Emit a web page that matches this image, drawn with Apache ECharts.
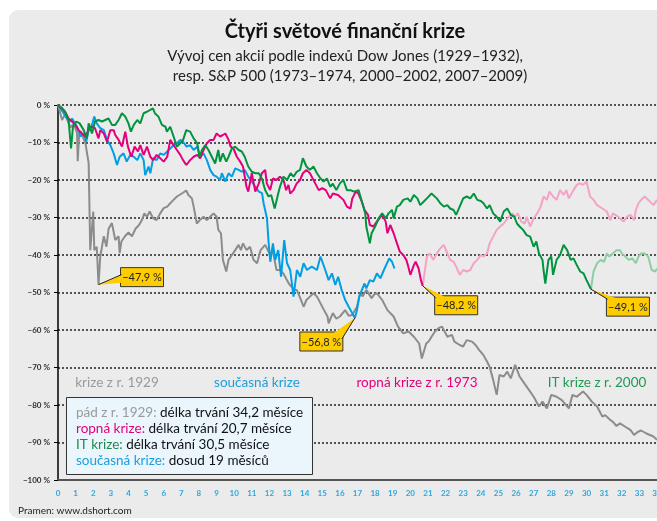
<!DOCTYPE html>
<html>
<head>
<meta charset="UTF-8">
<title>Čtyři světové finanční krize</title>
<script src="https://cdn.jsdelivr.net/npm/echarts@6/dist/echarts.min.js"></script>
<style>
  html, body { margin: 0; padding: 0; background: #fff; }
  #main { width: 657px; height: 521px; }
</style>
</head>
<body>
<div id="main"></div>
<script>
// [měsíc od vrcholu, změna v %]
var crash1929 = [[0,0],[0.23,-4],[0.4,-2.5],[0.7,-6],[0.9,-5],[1.08,-7.5],[1.12,-15],[1.2,-8],[1.3,-7],[1.45,-9],[1.55,-10],[1.74,-15.5],[1.83,-38.7],[1.93,-38.5],[2.0,-28.4],[2.06,-38.7],[2.2,-37.8],[2.3,-47.9],[2.4,-40.4],[2.6,-35],[2.75,-37.8],[2.87,-33],[3.06,-31.5],[3.25,-36],[3.44,-35],[3.5,-39.5],[3.6,-36.4],[3.8,-35],[4.0,-34],[4.2,-35],[4.4,-33],[4.6,-32],[4.76,-30.7],[4.9,-28.9],[5.05,-29.8],[5.2,-28.4],[5.4,-30.2],[5.6,-30.7],[5.8,-28.9],[6.0,-27.5],[6.2,-27.1],[6.37,-26.2],[6.56,-25.3],[6.75,-24.4],[7.03,-23.6],[7.28,-22.8],[7.4,-24],[7.6,-24.9],[7.7,-27.1],[7.88,-31.6],[8.05,-30.7],[8.26,-29.8],[8.45,-30.7],[8.64,-29.8],[8.83,-28.9],[9.0,-29.8],[9.1,-33.3],[9.25,-34.2],[9.36,-41.3],[9.55,-44.4],[9.68,-41.3],[9.87,-40],[10.06,-38.7],[10.25,-37.3],[10.38,-38.7],[10.5,-36.9],[10.7,-38.7],[10.9,-37.8],[11.1,-41.3],[11.3,-42.2],[11.5,-38.7],[11.76,-37.3],[11.85,-36.9],[12.05,-40],[12.2,-39],[12.4,-44],[12.6,-44],[12.8,-45],[13.1,-47.6],[13.4,-49.3],[13.55,-49.3],[13.75,-51.5],[13.94,-53.8],[14.1,-52],[14.3,-51.1],[14.5,-50.2],[14.7,-51.1],[14.9,-52.9],[15.1,-54.7],[15.3,-56.4],[15.36,-58.2],[15.6,-55.5],[15.8,-57],[16.0,-56.4],[16.3,-54.7],[16.5,-56.2],[16.7,-56],[16.97,-53.8],[17.15,-50.2],[17.3,-51],[17.5,-49.3],[17.8,-51.5],[17.95,-50.5],[18.1,-50.2],[18.4,-52],[18.7,-54.7],[19.05,-56.4],[19.3,-59.1],[19.6,-60.9],[19.9,-60.4],[20.2,-61.8],[20.5,-63.6],[20.65,-67.6],[20.9,-63.6],[21.05,-63],[21.2,-61.8],[21.4,-60.4],[21.6,-59.5],[21.8,-59.1],[22.1,-61.8],[22.36,-61.3],[22.5,-63.1],[22.8,-64],[23.0,-64.4],[23.2,-62.7],[23.5,-63.1],[23.7,-64],[23.9,-65.3],[24.15,-66.7],[24.35,-68.4],[24.5,-69.8],[24.7,-73.3],[24.9,-77.3],[25.06,-72],[25.3,-72.4],[25.5,-71.1],[25.7,-72.9],[25.95,-69.3],[26.2,-72.4],[26.6,-75.1],[27.0,-77.8],[27.3,-80.4],[27.5,-79.1],[27.75,-80.9],[28.0,-77.3],[28.3,-77.8],[28.6,-78.7],[29.0,-80.9],[29.2,-77.3],[29.45,-77.8],[29.8,-76.4],[30.0,-77.3],[30.3,-79.1],[30.6,-80.4],[30.9,-83.1],[31.06,-82.7],[31.35,-84],[31.5,-84.5],[31.7,-85.6],[31.9,-84.9],[32.2,-85.8],[32.5,-86.7],[32.7,-88],[32.9,-87.2],[33.1,-86.8],[33.4,-87.6],[33.8,-88.4],[34.0,-89.3]];

var crisisNow = [[0,0],[0.32,-2.2],[0.5,-3.5],[0.7,-4.4],[0.8,-3.6],[1.08,-5.8],[1.27,-8.4],[1.46,-7.6],[1.6,-9.8],[1.74,-6.7],[1.93,-5.3],[2.06,-3.1],[2.2,-4.9],[2.4,-6.2],[2.6,-6.7],[2.78,-9.3],[2.97,-10.7],[3.16,-12.9],[3.35,-16],[3.5,-13.8],[3.72,-12.9],[3.9,-15.1],[4.1,-13.3],[4.3,-13.8],[4.5,-14.7],[4.67,-12.9],[4.86,-14.7],[4.95,-18.7],[5.14,-16.4],[5.24,-18.2],[5.4,-14.2],[5.6,-14.7],[5.8,-12.9],[6.0,-13.3],[6.2,-12.4],[6.37,-11.6],[6.56,-10.7],[6.75,-10.2],[6.94,-9.3],[7.1,-9.8],[7.3,-11.1],[7.5,-10.7],[7.7,-12],[7.9,-11.1],[8.07,-13.8],[8.26,-12.9],[8.45,-14.7],[8.64,-17.3],[8.83,-18.7],[9.0,-19.1],[9.2,-20],[9.3,-18.2],[9.5,-20.4],[9.68,-18.2],[9.87,-19.1],[10.06,-16.9],[10.25,-17.3],[10.43,-17.8],[10.6,-17.3],[10.8,-19.1],[11.0,-20.4],[11.2,-21.8],[11.4,-23.1],[11.58,-23.5],[11.67,-26.2],[11.86,-30.2],[11.95,-36.4],[12.05,-41.8],[12.2,-36.9],[12.33,-41.3],[12.5,-38.7],[12.66,-45.8],[12.84,-36],[13.0,-42.2],[13.18,-44],[13.37,-51.1],[13.56,-44],[13.75,-45.8],[13.94,-42.2],[14.13,-44],[14.4,-43.1],[14.7,-44],[14.9,-40.4],[15.17,-44],[15.36,-46.7],[15.55,-44.9],[15.74,-48],[15.9,-45.8],[16.1,-49.3],[16.3,-52],[16.5,-53.8],[16.7,-55.5],[16.85,-56.8],[16.97,-54.7],[17.1,-51.1],[17.25,-49.3],[17.4,-47.6],[17.5,-48.9],[17.7,-46.7],[17.9,-47.1],[18.1,-44.9],[18.3,-46.2],[18.5,-44],[18.8,-40.9],[18.96,-41.8],[19.1,-43.6]];

var oil1973 = [[0,0],[0.23,-0.9],[0.4,-1.8],[0.6,-3.6],[0.8,-4.4],[0.98,-5.3],[1.17,-6.7],[1.36,-7.6],[1.55,-8.4],[1.74,-6.7],[1.93,-5.8],[2.1,-6.2],[2.3,-8.9],[2.4,-6.7],[2.6,-7.6],[2.78,-9.8],[2.97,-6.7],[3.16,-6.7],[3.25,-8],[3.44,-9.3],[3.63,-11.1],[3.82,-7.1],[3.97,-11.1],[4.16,-13.8],[4.35,-11.1],[4.54,-12.4],[4.67,-10.7],[4.86,-13.3],[5.05,-11.1],[5.24,-13.8],[5.4,-14.7],[5.6,-13.3],[5.8,-14.2],[6.0,-15.1],[6.2,-13.8],[6.37,-9.3],[6.56,-10.7],[6.75,-12],[6.94,-13.3],[7.1,-14.7],[7.28,-16],[7.5,-14.7],[7.7,-13.8],[7.9,-13.3],[8.07,-14.2],[8.26,-12],[8.45,-10.2],[8.64,-9.3],[8.83,-9.3],[9.0,-7.6],[9.2,-8.4],[9.36,-8],[9.5,-7.6],[9.68,-9.3],[9.8,-11.1],[9.96,-11.6],[10.15,-13.8],[10.34,-15.1],[10.5,-16.4],[10.7,-21.8],[10.8,-23.1],[11.0,-18.2],[11.2,-23.1],[11.4,-20.9],[11.57,-18.2],[11.76,-17.3],[11.85,-20.9],[12.04,-22.7],[12.2,-19.6],[12.4,-20],[12.6,-19.1],[12.8,-20],[12.95,-22.7],[13.08,-21.3],[13.18,-23.6],[13.37,-22.7],[13.55,-20.9],[13.74,-20],[13.9,-18.2],[14.1,-17.3],[14.3,-18.2],[14.6,-20.9],[14.8,-22.7],[15.0,-22.2],[15.2,-22.7],[15.45,-24.9],[15.6,-23.6],[15.9,-24],[16.2,-25.3],[16.4,-27.1],[16.6,-27.6],[16.7,-25],[16.9,-23.1],[17.05,-23.6],[17.25,-25.8],[17.4,-28],[17.6,-29.3],[17.7,-32],[17.9,-32.4],[18.1,-31.1],[18.4,-29.3],[18.6,-31.1],[18.7,-34.2],[18.86,-32],[19.05,-34.2],[19.24,-36.9],[19.4,-39.1],[19.6,-40],[19.77,-41.3],[19.86,-42.7],[20.0,-45.3],[20.2,-42.7],[20.3,-41.8],[20.47,-43.6],[20.6,-46.7],[20.7,-48.2]];

var oil1973After = [[20.7,-48.2],[20.94,-40.4],[21.1,-39.6],[21.3,-41.3],[21.5,-39.6],[21.7,-38.2],[21.9,-37.3],[22.1,-39.6],[22.26,-41.3],[22.45,-41.8],[22.6,-43.1],[22.8,-45.3],[23.0,-44],[23.2,-44.4],[23.4,-44],[23.6,-42.2],[23.8,-41.3],[24.0,-40],[24.15,-40.4],[24.35,-39.6],[24.5,-36.9],[24.7,-35.1],[24.9,-33.3],[25.1,-32.4],[25.3,-31.6],[25.6,-29.8],[25.8,-28.9],[25.95,-29.8],[26.1,-28.9],[26.3,-31.1],[26.5,-31.6],[26.6,-29.8],[26.8,-32.4],[27.0,-30.2],[27.2,-28.9],[27.4,-27.1],[27.56,-24.4],[27.75,-25.3],[27.9,-23.1],[28.1,-24.4],[28.3,-25.3],[28.5,-22.7],[28.7,-24],[28.85,-22.7],[29.0,-24.9],[29.26,-22.7],[29.45,-21.3],[29.6,-20.9],[29.8,-21.3],[30.0,-20.4],[30.2,-24.4],[30.4,-25.3],[30.6,-26.7],[30.9,-27.6],[31.15,-28.4],[31.35,-30.7],[31.5,-28.9],[31.8,-29.8],[32.1,-31.1],[32.3,-29.8],[32.5,-29.3],[32.7,-30.7],[32.8,-28],[32.95,-26.2],[33.1,-25.3],[33.3,-24.4],[33.5,-25.3],[33.8,-26.7],[34.0,-25.3]];

var it2000 = [[0,0],[0.23,-0.9],[0.4,-1.8],[0.5,-1.3],[0.6,-4],[0.74,-11.6],[0.85,-5.8],[1.04,-4.4],[1.23,-4.9],[1.46,-6.7],[1.64,-8.9],[1.74,-4.9],[1.93,-7.6],[2.1,-4.4],[2.3,-4],[2.5,-4.4],[2.68,-4],[2.87,-3.6],[3.06,-5.3],[3.25,-5.3],[3.44,-4],[3.63,-2.2],[3.82,-3.1],[4.0,-4.9],[4.14,-7.1],[4.3,-5.3],[4.5,-4],[4.67,-4.9],[4.86,-2.2],[5.05,-1.8],[5.24,-1.3],[5.39,-0.9],[5.5,-2.2],[5.7,-3.1],[5.9,-5.3],[6.1,-5.8],[6.18,-7.1],[6.37,-5.8],[6.56,-8.4],[6.75,-11.1],[6.94,-10.2],[7.1,-9.3],[7.28,-6.7],[7.5,-7.1],[7.7,-8.9],[7.9,-10.2],[8.03,-13.8],[8.17,-12],[8.36,-10.7],[8.54,-12],[8.73,-13.8],[8.92,-15.6],[9.1,-12],[9.2,-15.1],[9.36,-12.9],[9.55,-15.1],[9.68,-13.8],[9.87,-11.6],[10.06,-11.1],[10.25,-12],[10.43,-12.4],[10.6,-13.8],[10.8,-16.4],[11.0,-17.8],[11.2,-18.2],[11.4,-18.2],[11.57,-19.6],[11.76,-22.7],[11.95,-24.4],[12.1,-24],[12.3,-27.6],[12.5,-23.6],[12.6,-21.8],[12.8,-19.1],[13.0,-20],[13.2,-18.2],[13.37,-19.1],[13.55,-17.8],[13.74,-17.3],[13.9,-14.2],[14.1,-16.4],[14.3,-17.3],[14.5,-16.4],[14.7,-18.2],[14.9,-19.6],[15.07,-20.4],[15.27,-19.6],[15.45,-21.8],[15.6,-21],[15.8,-22.7],[16.0,-20.9],[16.2,-20],[16.4,-22.7],[16.6,-22.7],[16.8,-23.1],[17.06,-22.7],[17.25,-25.8],[17.44,-28.9],[17.5,-32.4],[17.7,-36.9],[17.8,-34.2],[18.0,-32.4],[18.2,-30.2],[18.4,-28.9],[18.6,-30.2],[18.76,-28.9],[18.96,-28],[19.05,-30.2],[19.24,-27.1],[19.4,-26.7],[19.6,-25.3],[19.85,-24.9],[20.0,-25.8],[20.2,-24],[20.4,-24.9],[20.56,-26.7],[20.75,-25.8],[20.94,-24.9],[21.2,-23.6],[21.5,-24.9],[21.7,-26.2],[21.9,-27.1],[22.1,-26.7],[22.26,-27.6],[22.45,-28],[22.6,-29.3],[22.8,-27.1],[23.0,-24.9],[23.2,-24.4],[23.4,-24.9],[23.6,-23.6],[23.8,-25.3],[24.0,-25.6],[24.15,-26.2],[24.35,-27.6],[24.5,-26.7],[24.7,-28.9],[24.9,-29.8],[25.1,-31.1],[25.3,-28.4],[25.5,-27.6],[25.7,-29.3],[25.9,-29.8],[26.05,-31.6],[26.2,-32.4],[26.4,-33.3],[26.6,-34.7],[26.8,-35.1],[27.0,-37.8],[27.15,-36.4],[27.3,-39.6],[27.5,-41.3],[27.56,-44],[27.66,-47.6],[27.84,-41.3],[28.0,-40.4],[28.1,-45.3],[28.3,-41.3],[28.5,-40],[28.7,-37.3],[28.9,-38.7],[29.1,-41.3],[29.26,-40.9],[29.45,-42.7],[29.64,-44.4],[29.83,-44.9],[30.0,-46.7],[30.25,-49.1]];

var it2000After = [[30.25,-49.1],[30.4,-44.4],[30.6,-42.2],[30.8,-41.3],[31.0,-41.8],[31.15,-39.6],[31.3,-40.4],[31.5,-39.6],[31.7,-38.7],[31.9,-38.7],[32.0,-39.6],[32.2,-40.4],[32.4,-41.3],[32.6,-40.9],[32.8,-42.2],[32.95,-40.4],[33.1,-39.6],[33.3,-39.6],[33.5,-40.4],[33.7,-44],[33.9,-44.4],[34.0,-43.6]];

// dna krizí (popisky žlutých štítků)
var minPoints = [[2.3,-47.9],[16.85,-56.8],[20.7,-48.2],[30.25,-49.1]];
var minLabels = ['\u221247,9 %','\u221256,8 %','\u221248,2 %','\u221249,1 %'];

var FONT = 'Lato, "Noto Sans", sans-serif';

var myChart = echarts.init(document.getElementById('main'));

function lineSeries(name, data, color, z) {
    return {
        name: name, type: 'line', data: data, z: z,
        showSymbol: false, symbol: 'none', smooth: false,
        lineStyle: { color: color, width: 2 },
        emphasis: { disabled: true }
    };
}

myChart.setOption({
    animation: false,
    textStyle: { fontFamily: FONT },
    grid: { left: 58, right: 0, top: 105, bottom: 41, containLabel: false, outerBoundsMode: 'none' },
    xAxis: {
        type: 'value', min: 0, max: 34, interval: 1,
        axisLine: { onZero: false, lineStyle: { color: '#555', width: 2 } },
        axisTick: { show: false },
        splitLine: { show: false },
        axisLabel: { color: '#29a8e0', fontSize: 8, fontWeight: 'bold', margin: 9, fontFamily: FONT }
    },
    yAxis: {
        type: 'value', min: -100, max: 0, interval: 10,
        axisLine: { show: true, onZero: false, lineStyle: { color: '#000', width: 1.5 } },
        axisTick: { show: true, length: 4, lineStyle: { color: '#000', width: 1 } },
        splitLine: { show: true, lineStyle: { color: '#222', width: 1.5, type: [2, 2] } },
        axisLabel: {
            color: '#333', fontSize: 8, fontWeight: 'bold', margin: 8, fontFamily: FONT,
            formatter: function (v) { return v === 0 ? '0 %' : '\u2212' + (-v) + ' %'; }
        }
    },
    series: [
        lineSeries('krize z r. 1929', crash1929, '#8c8c8c', 2),
        lineSeries('ropná krize po dnu', oil1973After, '#f4a3c6', 2),
        lineSeries('IT krize po dnu', it2000After, '#8fcea3', 2),
        lineSeries('současná krize', crisisNow, '#009fe3', 3),
        lineSeries('ropná krize z r. 1973', oil1973, '#e4007c', 4),
        lineSeries('IT krize z r. 2000', it2000, '#00943f', 5)
    ]
});

// štítky u minim – poloha odvozená z os grafu
var boxOffsets = [[22, -17], [-55, 14], [12, 10], [15.5, 8]];
var callouts = [];
minPoints.forEach(function (p, i) {
    var t = myChart.convertToPixel({ gridIndex: 0 }, p);
    var bx = t[0] + boxOffsets[i][0], by = t[1] + boxOffsets[i][1], bw = 43, bh = 19;
    var a, b;
    if (i === 0) { a = [bx + 1, by + 7]; b = [bx + 1, by + 15]; }
    else if (i === 1) { a = [bx + bw - 1, by + 7]; b = [bx + bw - 9, by + 1]; }
    else { a = [bx + 1, by + 2]; b = [bx + 10, by + 1]; }
    callouts.push(
        { type: 'rect', z: 100, shape: { x: bx, y: by, width: bw, height: bh },
          style: { fill: '#ffcc00', stroke: '#333', lineWidth: 1 } },
        { type: 'polygon', z: 101, shape: { points: [t, a, b] },
          style: { fill: '#ffcc00' } },
        { type: 'line', z: 102, shape: { x1: t[0], y1: t[1], x2: a[0], y2: a[1] },
          style: { stroke: '#222', lineWidth: 1 } },
        { type: 'text', z: 103, x: bx + bw / 2, y: by + bh / 2 + 0.5,
          style: { text: minLabels[i], fill: '#222', font: '11px ' + FONT, align: 'center', verticalAlign: 'middle' } }
    );
});

var graphics = [
    { type: 'rect', z: -10, shape: { x: 9, y: 10, width: 700, height: 508, r: 9 },
      style: { fill: '#ebebeb' } },
    { type: 'text', z: 10, x: 345, y: 32,
      style: { text: 'Čtyři světové finanční krize', fill: '#111', font: 'bold 20px ' + FONT, align: 'center', verticalAlign: 'middle' } },
    { type: 'text', z: 10, x: 345, y: 56,
      style: { text: 'Vývoj cen akcií podle indexů Dow Jones (1929\u20131932),', fill: '#222', font: '15px ' + FONT, align: 'center', verticalAlign: 'middle' } },
    { type: 'text', z: 10, x: 350, y: 76,
      style: { text: 'resp. S&P 500 (1973\u20131974, 2000\u20132002, 2007\u20132009)', fill: '#222', font: '15px ' + FONT, align: 'center', verticalAlign: 'middle' } },
    { type: 'text', z: 10, x: 117, y: 383,
      style: { text: 'krize z r. 1929', fill: '#9a9a9a', font: '13.5px ' + FONT, align: 'center', verticalAlign: 'middle' } },
    { type: 'text', z: 10, x: 257, y: 383,
      style: { text: 'současná krize', fill: '#1a9fdc', font: '13.5px ' + FONT, align: 'center', verticalAlign: 'middle' } },
    { type: 'text', z: 10, x: 417, y: 383,
      style: { text: 'ropná krize z r. 1973', fill: '#e4007c', font: '13.5px ' + FONT, align: 'center', verticalAlign: 'middle' } },
    { type: 'text', z: 10, x: 597, y: 383,
      style: { text: 'IT krize z r. 2000', fill: '#1f9a55', font: '13.5px ' + FONT, align: 'center', verticalAlign: 'middle' } },
    { type: 'rect', z: 20, shape: { x: 66.5, y: 397.5, width: 246, height: 77 },
      style: { fill: '#eaf5fc', stroke: '#333', lineWidth: 1 } },
    { type: 'text', z: 21, x: 76, y: 404,
      style: {
          text: '{g|pád z r. 1929:} {k|délka trvání 34,2 měsíce}\n' +
                '{p|ropná krize:} {k|délka trvání 20,7 měsíce}\n' +
                '{v|IT krize:} {k|délka trvání 30,5 měsíce}\n' +
                '{b|současná krize:} {k|dosud 19 měsíců}',
          font: '13.5px ' + FONT,
          rich: {
              g: { fill: '#9a9a9a', font: '13.5px ' + FONT, lineHeight: 16.3 },
              p: { fill: '#e4007c', font: '13.5px ' + FONT, lineHeight: 16.3 },
              v: { fill: '#1f8a4c', font: '13.5px ' + FONT, lineHeight: 16.3 },
              b: { fill: '#1a9fdc', font: '13.5px ' + FONT, lineHeight: 16.3 },
              k: { fill: '#111', font: '13.5px ' + FONT, lineHeight: 16.3 }
          }
      } },
    { type: 'text', z: 10, x: 18, y: 511,
      style: { text: 'Pramen: www.dshort.com', fill: '#222', font: '10px ' + FONT, verticalAlign: 'middle' } }
];

myChart.setOption({ graphic: graphics.concat(callouts) });
</script>
</body>
</html>
